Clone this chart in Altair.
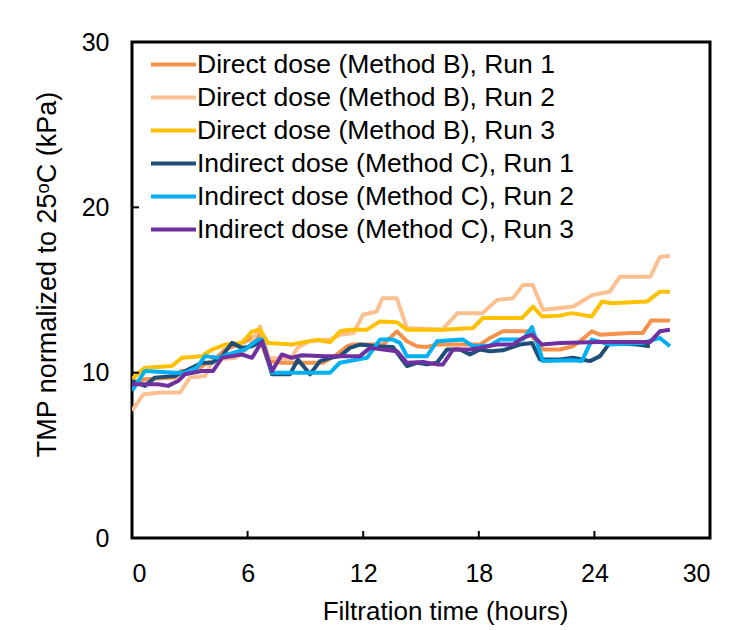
import altair as alt
import pandas as pd

series_names = [
    "Direct dose (Method B), Run 1",
    "Direct dose (Method B), Run 2",
    "Direct dose (Method B), Run 3",
    "Indirect dose (Method C), Run 1",
    "Indirect dose (Method C), Run 2",
    "Indirect dose (Method C), Run 3",
]
series_colors = ["#F4914B", "#FAC090", "#FFC000", "#1F4E79", "#00B0F0", "#7030A0"]

b1_t = [0, 0.67, 2.23, 2.54, 3.27, 3.79, 4.3, 4.83, 5.71, 6.54, 7.06, 7.78, 9.91, 10.64, 11.16, 11.5,
        12.35, 13.03, 13.75, 14.27, 14.79, 15.31, 15.83, 16.5, 17.18, 18.06, 18.58, 19.25, 20.5, 20.76,
        21.33, 22.21, 22.89, 23.25, 23.87, 24.29, 25.84, 26.5, 26.95, 27.92]
b1_v = [9.4, 9.6, 9.7, 10.1, 10.1, 10.5, 10.8, 11.4, 11.8, 12.3, 10.7, 10.6, 10.6, 11.1, 11.6, 11.7,
        11.7, 11.7, 12.5, 11.9, 11.6, 11.55, 11.7, 11.7, 11.7, 11.7, 12.1, 12.5, 12.5, 12.2,
        11.4, 11.4, 11.6, 11.9, 12.5, 12.3, 12.4, 12.4, 13.15, 13.15]

b2_t = [0, 0.6, 1.5, 2.5, 3.0, 3.8, 4.2, 5.4, 6.1, 6.64, 7.1, 8.2, 8.6, 9.2, 10.3, 10.8, 11.5, 11.99,
        12.7, 13.0, 13.75, 14.27, 16.1, 16.9, 18.2, 18.94, 19.77, 20.3, 20.8, 21.33, 22.9, 23.9, 24.8,
        25.32, 26.9, 27.4, 27.92]
b2_v = [7.7, 8.7, 8.8, 8.8, 9.7, 9.8, 10.8, 10.9, 11.6, 12.8, 10.9, 10.8, 11.5, 11.9, 12.0, 12.3, 12.4, 13.5,
        13.7, 14.5, 14.5, 12.7, 12.6, 13.6, 13.6, 14.4, 14.5, 15.3, 15.3, 13.8, 14.0, 14.7, 14.9,
        15.8, 15.8, 17.0, 17.06]

b3_t = [0, 0.67, 2.08, 2.59, 3.63, 4.15, 4.83, 5.71, 6.23, 6.64, 7.06, 8.3, 9.65, 10.0, 10.28, 10.8,
        11.3, 12.2, 12.87, 13.75, 14.27, 14.95, 16.14, 17.7, 18.21, 20.24, 20.81, 21.28, 22.21, 22.83,
        23.87, 24.39, 24.91, 26.73, 27.4, 27.92]
b3_v = [9.6, 10.3, 10.4, 10.9, 11.0, 11.4, 11.7, 11.8, 12.5, 12.6, 11.8, 11.7, 12.0, 11.9, 11.85, 12.5,
        12.6, 12.6, 13.1, 13.05, 12.6, 12.6, 12.6, 12.7, 13.3, 13.3, 14.0, 13.4, 13.45, 13.6,
        13.4, 14.3, 14.2, 14.3, 14.9, 14.9]

c1_t = [0, 0.67, 1.19, 2.23, 3.63, 4.15, 4.67, 5.19, 5.71, 6.23, 6.75, 7.27, 8.2, 8.61, 9.24, 9.76,
        10.3, 10.8, 11.31, 11.83, 12.71, 13.54, 14.27, 14.79, 15.31, 15.83, 16.35, 17.02, 17.54, 18.06,
        18.58, 19.25, 19.62, 20.13, 20.76, 21.17, 22.21, 22.89, 23.35, 23.77, 24.29, 24.8, 26.21, 26.88]
c1_v = [9.5, 9.2, 9.7, 9.8, 10.6, 10.6, 11.0, 11.8, 11.5, 11.6, 11.9, 9.9, 9.9, 10.8, 9.9, 10.7,
        10.9, 11.0, 11.5, 11.7, 11.6, 11.55, 10.4, 10.6, 10.5, 10.6, 11.4, 11.4, 11.1, 11.4,
        11.3, 11.35, 11.5, 11.7, 11.8, 10.8, 10.8, 10.9, 10.8, 10.7, 11.0, 11.8, 11.7, 11.6]

c2_t = [0, 0.67, 2.23, 2.75, 3.37, 3.79, 4.46, 4.98, 5.86, 6.54, 6.75, 7.27, 9.65, 10.28, 10.79, 12.2,
        12.87, 13.54, 13.91, 14.27, 15.31, 15.83, 17.18, 17.7, 18.58, 19.1, 20.29, 20.76, 21.33, 22.83,
        23.35, 23.87, 24.8, 26.52, 27.4, 27.92]
c2_v = [8.9, 10.1, 10.0, 10.0, 10.3, 11.0, 10.9, 11.1, 11.4, 12.0, 12.0, 10.0, 10.0, 10.0, 10.6, 10.9,
        12.0, 12.0, 11.8, 11.0, 11.0, 11.9, 12.0, 11.6, 11.65, 12.0, 12.0, 12.75, 10.7, 10.75,
        10.7, 12.0, 11.7, 11.8, 12.1, 11.6]

c3_t = [0, 1.35, 1.87, 2.39, 2.75, 3.63, 4.2, 4.67, 5.19, 5.71, 6.23, 6.75, 7.27, 7.78, 8.3, 8.82,
        10.02, 10.5, 11.83, 12.35, 13.03, 13.75, 14.27, 15.1, 15.83, 16.14, 16.66, 17.54, 18.06, 18.94,
        19.77, 20.29, 20.76, 21.28, 22.21, 24.29, 26.88, 27.4, 27.92]
c3_v = [9.3, 9.3, 9.2, 9.5, 9.9, 10.1, 10.1, 10.9, 11.0, 11.1, 10.9, 11.9, 10.1, 11.1, 10.9, 11.05,
        11.0, 11.0, 11.0, 11.5, 11.4, 11.3, 10.6, 10.65, 10.5, 10.5, 11.4, 11.4, 11.5, 11.7,
        11.7, 12.1, 12.3, 11.7, 11.8, 11.85, 11.85, 12.5, 12.6]

x_ticks = [0, 6, 12, 18, 24, 30]
y_ticks = [0, 10, 20, 30]
x_inner_ticks = [6, 12, 18, 24]
y_inner_ticks = [10, 20]

all_t = [b1_t, b2_t, b3_t, c1_t, c2_t, c3_t]
all_v = [b1_v, b2_v, b3_v, c1_v, c2_v, c3_v]
rows = []
for name, ts, vs in zip(series_names, all_t, all_v):
    for i, (t, v) in enumerate(zip(ts, vs)):
        rows.append({"series": name, "t": t, "v": v, "order": i})
df = pd.DataFrame(rows)

W, H = 578, 496
FONT = "Liberation Sans"

xscale = alt.Scale(domain=[0, 30], nice=False)
yscale = alt.Scale(domain=[0, 30], nice=False)

xaxis = alt.Axis(values=x_ticks, title="Filtration time (hours)", grid=False, ticks=False,
                 domain=False, labelFontSize=25, titleFontSize=26, labelPadding=23,
                 titlePadding=12, titleX=313, labelFont=FONT, titleFont=FONT,
                 labelColor="#000", titleColor="#000", titleFontWeight="normal")
yaxis = alt.Axis(values=y_ticks, title="TMP normalized to 25ᵒC (kPa)", grid=False, ticks=False,
                 domain=False, labelFontSize=25, titleFontSize=27, labelPadding=23,
                 titlePadding=20, titleY=232, labelFont=FONT, titleFont=FONT,
                 labelColor="#000", titleColor="#000", titleFontWeight="normal")

lines = alt.Chart(df).mark_line(strokeWidth=4, strokeJoin="round", clip=True).encode(
    x=alt.X("t:Q", scale=xscale, axis=xaxis),
    y=alt.Y("v:Q", scale=yscale, axis=yaxis),
    color=alt.Color("series:N", scale=alt.Scale(domain=series_names, range=series_colors),
                    legend=alt.Legend(title=None, orient="none", legendX=28, legendY=9,
                                      symbolType="M-2,0H2", symbolStrokeWidth=4, symbolSize=506,
                                      labelFontSize=26.5, labelFont=FONT, labelColor="#000",
                                      labelLimit=600, rowPadding=6, labelOffset=10)),
    order="order:Q",
)

xt = alt.Chart(pd.DataFrame({"t": x_inner_ticks})).mark_rule(color="black", strokeWidth=2).encode(
    x=alt.X("t:Q", scale=xscale, axis=xaxis), y=alt.value(H), y2=alt.value(H - 7))
yt = alt.Chart(pd.DataFrame({"v": y_inner_ticks})).mark_rule(color="black", strokeWidth=2).encode(
    y=alt.Y("v:Q", scale=yscale, axis=yaxis), x=alt.value(0), x2=alt.value(7))

chart = alt.layer(lines, xt, yt).properties(
    width=W, height=H, padding={"left": 25, "top": 22, "right": 10, "bottom": 5}
).configure(background="white", view=alt.ViewConfig(stroke="black", strokeWidth=3))

chart.save("out.html", embed_options={"renderer": "svg", "actions": False})
